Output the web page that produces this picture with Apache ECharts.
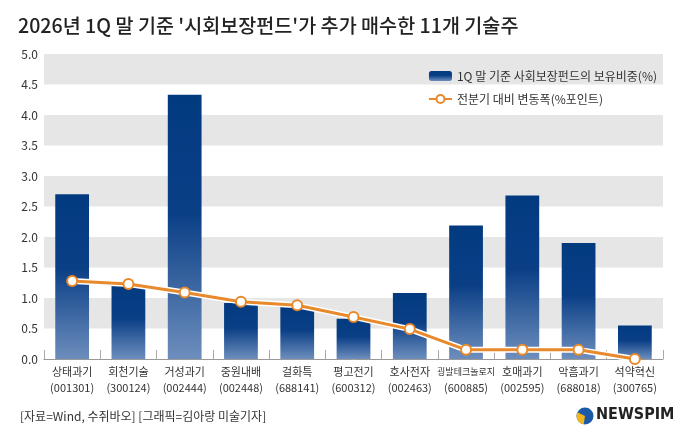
<!DOCTYPE html>
<html>
<head>
<meta charset="utf-8">
<script src="https://cdn.jsdelivr.net/npm/echarts@6/dist/echarts.min.js"></script>
<style>
  html, body { margin: 0; padding: 0; background: #fff; }
  #chart { width: 680px; height: 442px; }
</style>
</head>
<body>
<div id="chart"></div>
<script>
// 종목명, 종목코드
var names = ['상태과기', '회천기술', '거성과기', '중원내배', '걸화특', '평고전기', '호사전자', '굉발테크놀로지', '호매과기', '악흠과기', '석약혁신'];
var codes = ['001301', '300124', '002444', '002448', '688141', '600312', '002463', '600885', '002595', '688018', '300765'];
// 1Q 말 보유비중(%)
var holding = [2.7, 1.2, 4.33, 0.92, 0.86, 0.66, 1.08, 2.19, 2.68, 1.9, 0.55];
// 전분기 대비 변동폭(%p)
var change = [1.28, 1.23, 1.09, 0.94, 0.88, 0.69, 0.49, 0.15, 0.15, 0.15, 0.0];

var barName = '1Q 말 기준 사회보장펀드의 보유비중(%)';
var lineName = '전분기 대비 변동폭(%포인트)';
var font = '"Noto Sans CJK KR", "Noto Sans", sans-serif';

var chart = echarts.init(document.getElementById('chart'));

var barColor = new echarts.graphic.LinearGradient(0, 0, 0, 1, [
    {offset: 0, color: '#023a80'},
    {offset: 0.45, color: '#0a3f86'},
    {offset: 1, color: '#6d8ebd'}
]);

var option = {
    backgroundColor: '#fff',
    textStyle: {fontFamily: font},
    title: {
        text: "2026년 1Q 말 기준 '시회보장펀드'가 추가 매수한 11개 기술주",
        left: 18, top: 16, padding: 0,
        textStyle: {fontFamily: font, fontSize: 19.6, fontWeight: 500, color: '#222'}
    },
    legend: {
        data: [barName, lineName],
        orient: 'vertical',
        right: 18, top: 65,
        itemWidth: 23, itemHeight: 10, itemGap: 11,
        textStyle: {fontFamily: font, fontSize: 12, color: '#333'}
    },
    grid: {left: 44, right: 17, top: 54, bottom: 83},
    xAxis: {
        type: 'category',
        data: names,
        axisLine: {lineStyle: {color: '#999'}},
        axisTick: {show: true, inside: true, length: 9, lineStyle: {color: '#aaa'}},
        axisLabel: {
            interval: 0,
            margin: 5,
            formatter: function (v, i) {
                var st = v.length > 5 ? 'n' : 'a';
                return '{' + st + '|' + v + '}\n{c|(' + codes[i] + ')}';
            },
            rich: {
                a: {fontFamily: font, fontSize: 11, color: '#333', lineHeight: 16},
                n: {fontFamily: font, fontSize: 9, color: '#333', lineHeight: 16},
                c: {fontFamily: font, fontSize: 11, color: '#333', lineHeight: 16}
            }
        }
    },
    yAxis: {
        type: 'value',
        min: 0, max: 5, interval: 0.5,
        axisLabel: {
            margin: 6,
            fontFamily: font, fontSize: 12, color: '#333',
            formatter: function (v) { return v.toFixed(1); }
        },
        axisLine: {show: false},
        axisTick: {show: false},
        splitLine: {show: false},
        splitArea: {show: true, areaStyle: {color: ['#ffffff', '#e6e6e6']}}
    },
    series: [
        {
            name: barName,
            type: 'bar',
            data: holding,
            barWidth: '60%',
            itemStyle: {color: barColor},
            z: 2
        },
        {
            name: 'halo',
            type: 'line',
            data: change,
            silent: true,
            symbol: 'none',
            lineStyle: {color: '#fff', width: 6},
            z: 3
        },
        {
            name: lineName,
            type: 'line',
            data: change,
            symbol: 'circle',
            symbolSize: 10,
            lineStyle: {color: '#e8892b', width: 3},
            itemStyle: {color: '#fff', borderColor: '#e8892b', borderWidth: 2},
            z: 4
        }
    ],
    graphic: [
        {
            type: 'text', left: 20, top: 410,
            style: {text: '[자료=Wind, 수쥐바오] [그래픽=김아랑 미술기자]', font: '12px ' + font, fill: '#333'}
        },
        {
            type: 'circle', shape: {cx: 585, cy: 416, r: 8.5},
            style: {fill: '#1b5aa8'}
        },
        {
            type: 'sector', shape: {cx: 585, cy: 416, r: 8.5, r0: 0, startAngle: Math.PI * 0.55, endAngle: Math.PI * 1.15},
            style: {fill: '#f2b51c'}
        },
        {
            type: 'text', left: 596, top: 407,
            style: {text: 'NEWSPIM', font: 'bold 16px "Liberation Sans Narrow", "DejaVu Sans Condensed", sans-serif', fill: '#222'}
        }
    ]
};

chart.setOption(option);
</script>
</body>
</html>
